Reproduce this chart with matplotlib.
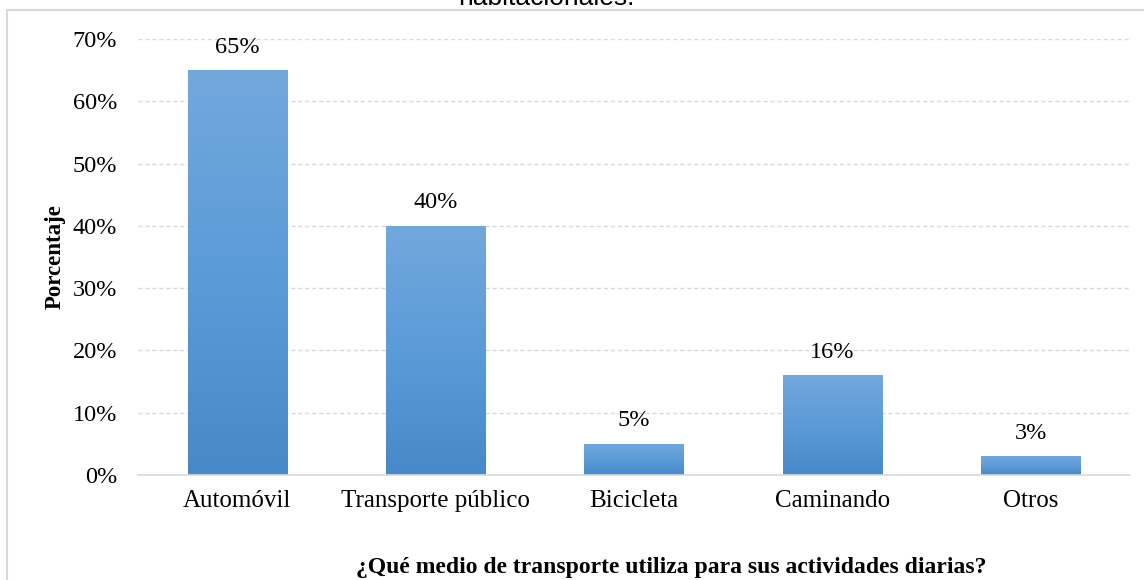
import matplotlib
matplotlib.use("Agg")
import matplotlib.pyplot as plt
import numpy as np
from matplotlib.colors import LinearSegmentedColormap
from matplotlib.lines import Line2D
from matplotlib.ticker import FuncFormatter

# datos de la encuesta
categorias = ["Automóvil", "Transporte público", "Bicicleta", "Caminando", "Otros"]
porcentajes = [65, 40, 5, 16, 3]
ticks_y = [0, 10, 20, 30, 40, 50, 60, 70]

titulo = "habitacionales."
eje_x = "¿Qué medio de transporte utiliza para sus actividades diarias?"
eje_y = "Porcentaje"

serif = "Liberation Serif"
gris = "#d9d9d9"

fig = plt.figure(figsize=(11.44, 5.8), dpi=100)
ax = fig.add_axes([138 / 1144, 1 - 475 / 580, 992 / 1144, 436 / 580])

x = np.arange(len(categorias))
barras = ax.bar(x, porcentajes, width=0.5, color="none", zorder=3)

# degradado vertical dentro de cada barra
degradado = LinearSegmentedColormap.from_list("azul", ["#4789c9", "#5b9bd8", "#73a8dd"])
grad = np.linspace(0, 1, 256).reshape(-1, 1)
for b in barras:
    x0, y0 = b.get_x(), b.get_y()
    w, h = b.get_width(), b.get_height()
    im = ax.imshow(grad, cmap=degradado, origin="lower", aspect="auto",
                   extent=[x0, x0 + w, y0, y0 + h], zorder=3)
    im.set_clip_path(b)

for xi, v in zip(x, porcentajes):
    ax.annotate(f"{v}%", (xi, v), xytext=(0, 9), textcoords="offset points",
                ha="center", va="bottom", fontsize=17.5, family=serif)

ax.set_xlim(-0.5, len(categorias) - 0.5)
ax.set_ylim(0, 70)
ax.set_yticks(ticks_y)
ax.yaxis.set_major_formatter(FuncFormatter(lambda v, p: f"{v:.0f}%"))
ax.set_xticks(x)
ax.set_xticklabels(categorias)

for lab in ax.get_yticklabels():
    lab.set_family(serif)
    lab.set_fontsize(17.5)
for lab in ax.get_xticklabels():
    lab.set_family(serif)
    lab.set_fontsize(18)

ax.tick_params(axis="y", length=0, pad=15)
ax.tick_params(axis="x", length=0, pad=11)
ax.grid(axis="y", linestyle=(0, (3, 2)), color=gris, linewidth=1, zorder=0)
ax.set_axisbelow(True)
for s in ["top", "right", "left"]:
    ax.spines[s].set_visible(False)
ax.spines["bottom"].set_color(gris)
ax.spines["bottom"].set_linewidth(1.2)
ax.spines["bottom"].set_zorder(4)

fig.text(55 / 1144, 1 - 257 / 580, eje_y, rotation=90, ha="center", va="center",
         fontsize=16.5, fontweight="bold", family=serif)
fig.text(671 / 1144, 1 - 568 / 580, eje_x, ha="center", va="center",
         fontsize=17, fontweight="bold", family=serif)

# título recortado y marco del área del gráfico
fig.text(546 / 1144, 1 - 5 / 580, titulo, ha="center", va="baseline",
         fontsize=19, family="Liberation Sans")
fig.add_artist(Line2D([7 / 1144, 7 / 1144], [0, 1 - 10 / 580],
                      transform=fig.transFigure, color=gris, linewidth=1.5))
fig.add_artist(Line2D([7 / 1144, 1], [1 - 10 / 580, 1 - 10 / 580],
                      transform=fig.transFigure, color=gris, linewidth=1.5))

fig.savefig("out.png", dpi=100)
